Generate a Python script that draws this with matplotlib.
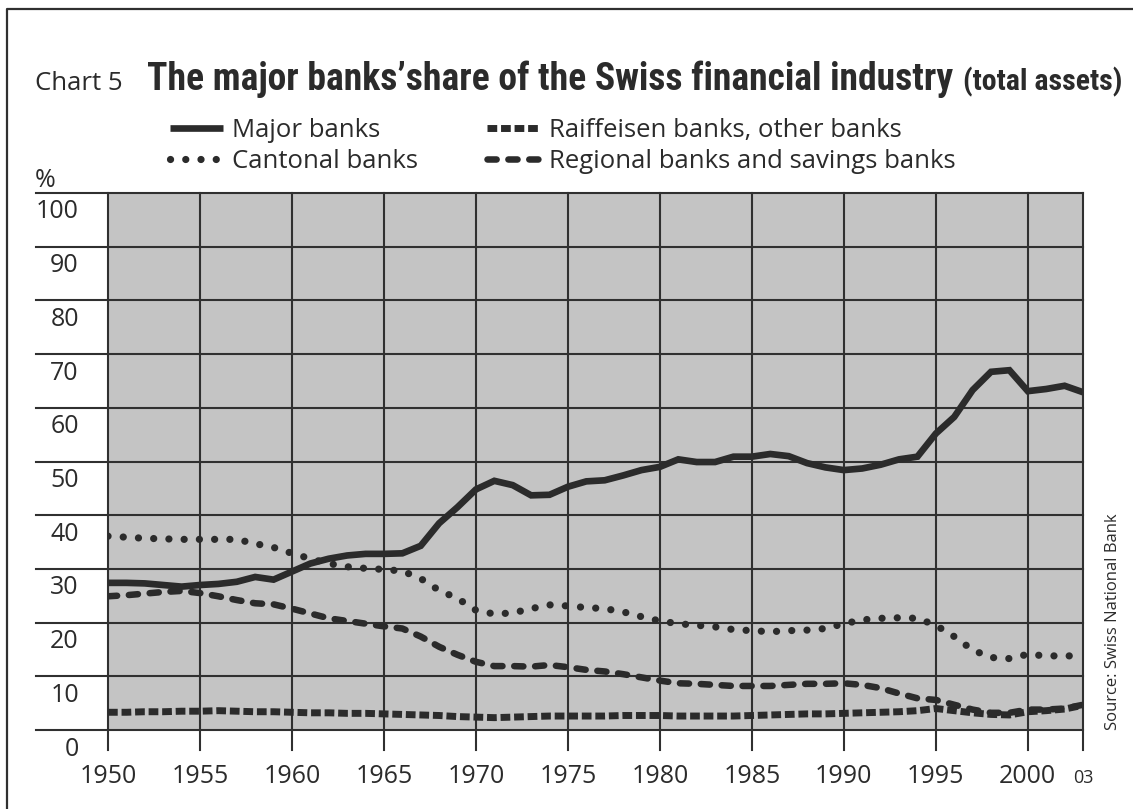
import matplotlib
matplotlib.use("Agg")
import matplotlib.pyplot as plt
from matplotlib import font_manager as fm
from matplotlib.font_manager import FontProperties
from matplotlib.lines import Line2D
from matplotlib.transforms import ScaledTranslation

# ---------------- data ----------------
years = list(range(1950, 2004))
major_banks = [27.4, 27.4, 27.3, 27.0, 26.7, 27.0, 27.2, 27.6, 28.5, 28.0,
               29.5, 31.0, 31.9, 32.5, 32.8, 32.8, 32.9, 34.3, 38.5, 41.5,
               44.8, 46.4, 45.6, 43.7, 43.8, 45.3, 46.3, 46.5, 47.4, 48.4,
               49.0, 50.4, 49.9, 49.9, 50.9, 50.9, 51.4, 51.0, 49.7, 48.9,
               48.4, 48.7, 49.4, 50.4, 50.9, 55.2, 58.3, 63.3, 66.7, 67.0,
               63.1, 63.5, 64.1, 62.9]
cantonal_banks = [36.1, 35.9, 35.7, 35.6, 35.5, 35.5, 35.5, 35.5, 34.7, 34.0,
                  32.9, 31.9, 31.0, 30.4, 30.1, 29.9, 29.6, 28.2, 26.0, 24.5,
                  22.3, 21.6, 21.8, 22.6, 23.3, 23.1, 22.8, 22.6, 22.0, 21.1,
                  20.3, 19.8, 19.5, 19.2, 18.7, 18.5, 18.3, 18.5, 18.6, 18.9,
                  19.8, 20.5, 20.8, 20.9, 20.8, 19.5, 17.4, 14.9, 13.5, 13.3,
                  14.1, 13.8, 13.8, 13.8]
regional_banks = [24.9, 25.1, 25.4, 25.7, 25.9, 25.5, 24.9, 24.2, 23.6, 23.4,
                  22.6, 21.7, 20.8, 20.3, 19.8, 19.3, 18.9, 17.4, 15.5, 14.0,
                  12.7, 11.9, 11.9, 11.8, 12.1, 11.7, 11.2, 10.9, 10.4, 9.8,
                  9.2, 8.7, 8.6, 8.4, 8.2, 8.2, 8.2, 8.4, 8.6, 8.6,
                  8.7, 8.4, 7.8, 6.8, 5.9, 5.6, 4.7, 3.8, 3.2, 3.2,
                  3.8, 3.8, 4.0, 4.7]
raiffeisen_banks = [3.3, 3.3, 3.4, 3.4, 3.5, 3.5, 3.6, 3.5, 3.4, 3.4,
                    3.3, 3.2, 3.2, 3.1, 3.1, 3.0, 2.9, 2.8, 2.7, 2.5,
                    2.4, 2.3, 2.4, 2.5, 2.6, 2.6, 2.6, 2.6, 2.7, 2.7,
                    2.7, 2.6, 2.6, 2.6, 2.6, 2.7, 2.8, 2.9, 3.0, 3.0,
                    3.1, 3.2, 3.3, 3.4, 3.6, 4.0, 3.6, 3.2, 2.9, 2.8,
                    3.4, 3.6, 3.9, 4.6]

x_ticks = [1950, 1955, 1960, 1965, 1970, 1975, 1980, 1985, 1990, 1995, 2000, 2003]
x_tick_labels = ["1950", "1955", "1960", "1965", "1970", "1975", "1980",
                 "1985", "1990", "1995", "2000", "03"]
y_ticks = [0, 10, 20, 30, 40, 50, 60, 70, 80, 90, 100]
y_tick_labels = [str(v) for v in y_ticks]

series_labels = ["Major banks", "Cantonal banks",
                 "Raiffeisen banks, other banks",
                 "Regional banks and savings banks"]

title_main = "The major banks\u2019share of the Swiss financial industry"
title_sub = "(total assets)"
chart_no = "Chart 5"
source = "Source: Swiss National Bank"

# ---------------- fonts ----------------
names = {f.name for f in fm.fontManager.ttflist}
body_font = "Open Sans" if "Open Sans" in names else "DejaVu Sans"


def is_bold(f):
    try:
        return int(f.weight) >= 600
    except (TypeError, ValueError):
        return str(f.weight).lower() in ("bold", "semibold", "demibold", "heavy")


def is_cond(f):
    st = str(f.stretch).lower()
    if "extra" in st or "ultra" in st:
        return False
    return ("condensed" in st or "narrow" in f.name.lower()
            or "condensed" in f.name.lower())


pref = ["Roboto Condensed", "Liberation Sans Narrow", "Noto Sans",
        "Open Sans", "DejaVu Sans", "Lato", "Inter", "Roboto"]
cands = [f for f in fm.fontManager.ttflist
         if is_cond(f) and is_bold(f) and f.style == "normal"]
cands.sort(key=lambda f: (pref.index(f.name) if f.name in pref else 99,
                          abs((int(f.weight) if str(f.weight).isdigit() else 700) - 700)))
if cands:
    title_prop = FontProperties(fname=cands[0].fname)
else:
    title_prop = FontProperties(family=body_font, weight="bold")

plt.rcParams["font.family"] = [body_font, "DejaVu Sans"]

INK = "#2b2b2b"
GRID = "#303030"
W, H = 1133, 809

fig = plt.figure(figsize=(W / 100, H / 100), dpi=100, facecolor="white")
ax = fig.add_axes([108 / W, 1 - 730 / H, (1083 - 108) / W, (730 - 193) / H])
ax.set_facecolor("#c4c4c4")
ax.set_xlim(1950, 2003)
ax.set_ylim(0, 100)
for s in ax.spines.values():
    s.set_visible(False)

# grid lines (extend left under labels, ticks extend below)
for v in y_ticks:
    ax.axhline(v, xmin=-72 / 975, xmax=1, color=GRID, lw=1.5, clip_on=False, zorder=1)
for v in x_ticks:
    ax.axvline(v, ymin=-20 / 537, ymax=1, color=GRID, lw=1.5, clip_on=False, zorder=1)

# series
l_major, = ax.plot(years, major_banks, color=INK, lw=4.8, solid_capstyle="butt",
                   solid_joinstyle="miter", zorder=5)
l_cant, = ax.plot(years, cantonal_banks, color=INK, lw=5.2,
                  linestyle=(0, (0.01, 2.1)), dash_capstyle="round", zorder=4)
l_raif, = ax.plot(years, raiffeisen_banks, color=INK, lw=5.0,
                  linestyle=(0, (1.4, 0.55)), dash_capstyle="butt", zorder=3)
l_reg, = ax.plot(years, regional_banks, color=INK, lw=4.7,
                 linestyle=(0, (1.4, 1.8)), dash_capstyle="round", zorder=4)

# ticks
ax.set_xticks(x_ticks)
ax.set_xticklabels(x_tick_labels)
ax.set_yticks(y_ticks)
ax.set_yticklabels(y_tick_labels)
ax.tick_params(axis="x", length=0, pad=38, labelsize=18, labelcolor=INK)
ax.tick_params(axis="y", length=0, pad=21, labelsize=18, labelcolor=INK)
for t in ax.xaxis.get_major_ticks():
    t.label1.set_va("baseline")
ax.xaxis.get_major_ticks()[-1].label1.set_fontsize(13)
yoff = ScaledTranslation(0, -19 / 100, fig.dpi_scale_trans)
for t in ax.yaxis.get_major_ticks():
    t.label1.set_va("center")
    t.label1.set_transform(t.label1.get_transform() + yoff)

# legend
fs_leg = 18.5
leg = fig.legend([l_major, l_cant, l_raif, l_reg], series_labels, ncol=2,
                 loc="upper left", bbox_to_anchor=(170 / W, 1 - 118 / H),
                 frameon=False, fontsize=fs_leg, handlelength=2.05,
                 handletextpad=0.35, columnspacing=2.7, labelspacing=0.25,
                 borderpad=0, borderaxespad=0)
for txt in leg.get_texts():
    txt.set_color(INK)

# texts
fig.text(35 / W, 1 - 90 / H, chart_no, fontsize=18.5, va="baseline", ha="left", color=INK)
t_main = fig.text(147 / W, 1 - 90 / H, title_main,
                  va="baseline", ha="left", color=INK, fontproperties=title_prop)
t_sub = fig.text(963 / W, 1 - 90 / H, title_sub,
                 va="baseline", ha="left", color=INK, fontproperties=title_prop)
t_main.set_fontsize(24)
t_sub.set_fontsize(19)
fig.text(35 / W, 1 - 187 / H, "%", fontsize=18, va="baseline", ha="left", color=INK)
fig.text(1113 / W, 1 - 730 / H, source, fontsize=12, rotation=90,
         va="bottom", ha="center", color=INK)

# fit title widths
r = fig.canvas.get_renderer()
for t, target in ((t_main, 810), (t_sub, 159)):
    w = t.get_window_extent(r).width
    t.set_fontsize(t.get_fontsize() * target / w)

# frame
fig.add_artist(Line2D([7 / W, 7 / W, 1.0], [0.0, 1 - 9 / H, 1 - 9 / H],
                      transform=fig.transFigure, color=GRID, lw=1.6))

fig.savefig("out.png", dpi=100, facecolor="white")
